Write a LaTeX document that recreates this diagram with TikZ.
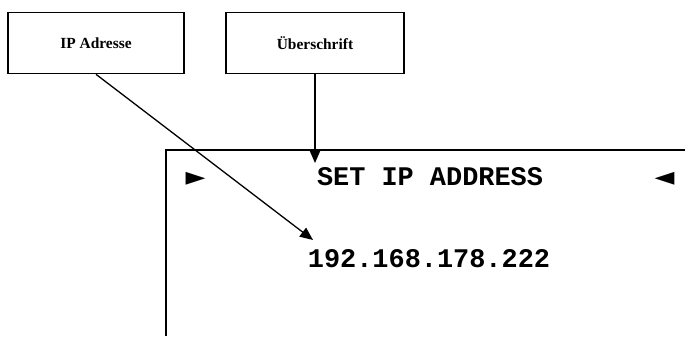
\documentclass[tikz,border=0pt]{standalone}
\usepackage{fontspec}
\setmainfont{Liberation Serif}
\setmonofont{Liberation Mono}
\newfontfamily\symfont{DejaVu Sans}
\usetikzlibrary{arrows.meta}
\tikzset{
  labelbox/.style={draw, line width=1.6bp, minimum width=176bp, minimum height=61bp, inner sep=0pt, font=\fontsize{15.5}{18}\selectfont\bfseries},
  pointer/.style={line width=1.3bp, -{Triangle[length=13bp,width=11bp]}},
  lcd/.style={font=\fontsize{27}{30}\selectfont\ttfamily\bfseries, inner sep=0pt},
  marker/.style={font=\fontsize{26}{28}\selectfont\symfont, inner sep=0pt}
}
\begin{document}
\begin{tikzpicture}[x=1bp,y=-1bp]
\useasboundingbox (0,0) rectangle (685,336);
\node[labelbox] (ipbox) at (96,43) {IP Adresse};
\node[labelbox, minimum width=178bp] (hdbox) at (315,43) {Überschrift};
\draw[line width=1.6bp] (685,150) coordinate (dtr) -- (166,150) coordinate (dtl) -- (166,336) coordinate (dbl);
\node[marker] (lm) at (195.5,178.5) {►};
\node[marker] (rm) at (664.5,178.5) {◄};
\node[lcd, anchor=base] (title) at (430,185) {SET IP ADDRESS};
\node[lcd, anchor=base] (ip) at (429,267) {192.168.178.222};
\coordinate (iptip) at (313,240);
\coordinate (hdtip) at (315,163);
\draw[pointer] (ipbox.south) -- (iptip);
\draw[pointer] (hdbox.south) -- (hdtip);
\end{tikzpicture}
\end{document}
